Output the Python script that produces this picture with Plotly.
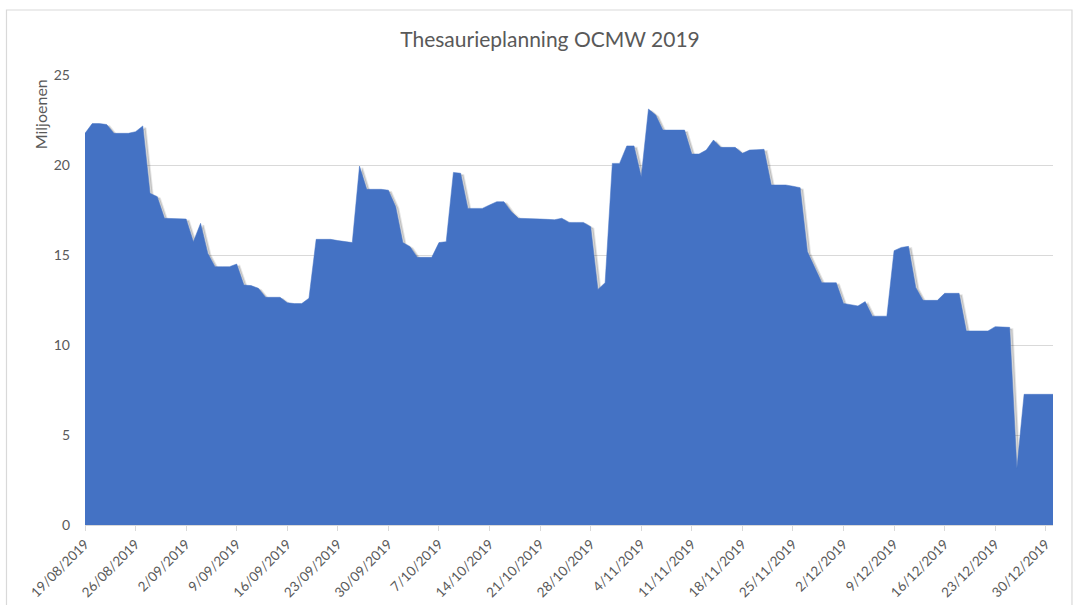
import datetime as dt
import plotly.graph_objects as go

start_date = dt.date(2019, 8, 19)
values = [
    21.76, 22.3, 22.3, 22.25, 21.76, 21.76, 21.76, 21.85, 22.17, 18.43,
    18.24, 17.04, 17.04, 17.04, 17.0, 15.74, 16.76, 15.09, 14.35, 14.35,
    14.35, 14.5, 13.33, 13.3, 13.15, 12.65, 12.65, 12.65, 12.35, 12.3,
    12.3, 12.6, 15.87, 15.87, 15.87, 15.8, 15.75, 15.69, 19.94, 18.65,
    18.65, 18.65, 18.6, 17.69, 15.69, 15.46, 14.87, 14.87, 14.87, 15.69,
    15.74, 19.59, 19.54, 17.59, 17.59, 17.59, 17.78, 17.96, 17.96, 17.41,
    17.04, 17.04, 17.04, 17.0, 16.98, 16.96, 17.04, 16.81, 16.81, 16.81,
    16.57, 13.09, 13.46, 20.09, 20.09, 21.06, 21.06, 19.35, 23.11, 22.78,
    21.94, 21.94, 21.94, 21.94, 20.61, 20.61, 20.83, 21.39, 20.98, 20.98,
    20.98, 20.65, 20.83, 20.85, 20.87, 18.89, 18.89, 18.89, 18.82, 18.74,
    15.19, 14.31, 13.46, 13.46, 13.46, 12.31, 12.24, 12.17, 12.41, 11.6,
    11.6, 11.6, 15.24, 15.42, 15.48, 13.2, 12.48, 12.48, 12.48, 12.87,
    12.87, 12.87, 10.78, 10.78, 10.78, 10.78, 11.02, 11.0, 10.98, 3.15,
    7.26, 7.26, 7.26, 7.26, 7.26,
]
dates = [dt.datetime.combine(start_date, dt.time()) + dt.timedelta(days=i)
         for i in range(len(values))]

tick_dates = [dates[0] + dt.timedelta(days=7 * k) for k in range(20)]
tick_labels = [f"{d.day}/{d.month:02d}/{d.year}" for d in tick_dates]
y_ticks = [0, 5, 10, 15, 20, 25]

grey = "#595959"
font_family = "Lato, 'Open Sans', sans-serif"

# soft drop shadow (style only): same series, slightly offset
shadow_dates = [d + dt.timedelta(hours=9) for d in dates]
shadow_values = [max(v - 0.1, 0) for v in values]

fig = go.Figure()
fig.add_trace(go.Scatter(
    x=shadow_dates, y=shadow_values, mode="lines", fill="tozeroy",
    fillcolor="rgba(0,0,0,0.16)", line=dict(color="rgba(0,0,0,0.10)", width=2),
    hoverinfo="skip", showlegend=False,
))
fig.add_trace(go.Scatter(
    x=dates, y=values, mode="lines", fill="tozeroy",
    fillcolor="#4472C4", line=dict(color="#4472C4", width=0.5),
    hoverinfo="x+y", showlegend=False,
))

fig.update_layout(
    width=1073, height=605,
    margin=dict(l=85, r=20, t=75, b=80, autoexpand=False),
    paper_bgcolor="white", plot_bgcolor="white",
    font=dict(family=font_family, color=grey, size=14),
    title=dict(text="Thesaurieplanning OCMW 2019", x=0.5126, xanchor="center",
               y=0.935, yanchor="middle",
               font=dict(size=21, color=grey, family=font_family)),
    xaxis=dict(
        type="date",
        range=[dates[0], dates[-1]],
        tickvals=tick_dates, ticktext=tick_labels,
        tickangle=-45,
        tickfont=dict(size=13.5, color=grey),
        showgrid=False,
        showline=True, linecolor="#d9d9d9", linewidth=1,
        ticks="outside", ticklen=5, tickcolor="#d9d9d9",
        zeroline=False, automargin=False,
    ),
    yaxis=dict(
        range=[0, 25], tickvals=y_ticks,
        tickfont=dict(size=14, color=grey),
        showgrid=True, gridcolor="#d9d9d9", gridwidth=1,
        zeroline=False, showline=False, ticks="",
        ticklabelstandoff=14, automargin=False,
    ),
    shapes=[dict(type="rect", xref="paper", yref="paper",
                 x0=-0.0811, x1=1.0196, y0=-0.19, y1=1.1444,
                 line=dict(color="#d9d9d9", width=1.2))],
    annotations=[dict(text="Miljoenen", xref="paper", yref="paper",
                      x=-0.0465, y=0.995, xanchor="center", yanchor="top",
                      textangle=-90, showarrow=False,
                      font=dict(size=16, color=grey, family=font_family))],
)

fig.write_html("out.html", config={"displayModeBar": False},
               post_script="document.body.style.margin='0';")
